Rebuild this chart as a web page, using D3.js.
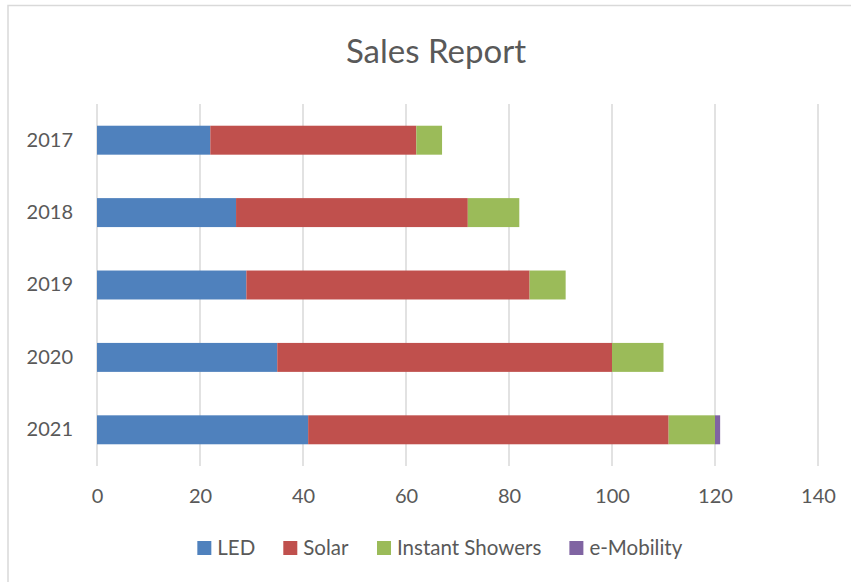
<!DOCTYPE html>
<html>
<head>
<meta charset="utf-8">
<script src="https://cdn.jsdelivr.net/npm/d3@7"></script>
<style>
  body { margin: 0; background: #fff; }
  text { font-family: Lato, "Open Sans", sans-serif; fill: #595959; }
</style>
</head>
<body>
<div class="chart"></div>
<script>
// data
const years = ["2017", "2018", "2019", "2020", "2021"];
const seriesNames = ["LED", "Solar", "Instant Showers", "e-Mobility"];
const led = [22, 27, 29, 35, 41];
const solar = [40, 45, 55, 65, 70];
const showers = [5, 10, 7, 10, 9];
const mobility = [0, 0, 0, 0, 1];
const xTicks = [0, 20, 40, 60, 80, 100, 120, 140];
const colors = ["#4F81BD", "#C0504D", "#9BBB59", "#8064A2"];

const W = 851, H = 582;
const margin = { top: 104, right: 33, bottom: 116, left: 97 };
const width = W - margin.left - margin.right,
    height = H - margin.top - margin.bottom;

const rows = years.map((y, i) => ({
    year: y, "LED": led[i], "Solar": solar[i], "Instant Showers": showers[i], "e-Mobility": mobility[i]
}));
const stacked = d3.stack().keys(seriesNames)(rows);

const root = d3.select(".chart").append("svg")
    .attr("width", W)
    .attr("height", H);

// chart frame (only left / top edge visible in the crop)
root.append("rect")
    .attr("x", 8).attr("y", 5.5)
    .attr("width", W + 20).attr("height", H + 20)
    .attr("fill", "none")
    .attr("stroke", "#d9d9d9")
    .attr("stroke-width", 1.5);

root.append("text")
    .attr("x", 436)
    .attr("y", 63)
    .attr("text-anchor", "middle")
    .style("font-size", "33px")
    .text("Sales Report");

const svg = root.append("g")
    .attr("transform", `translate(${margin.left}, ${margin.top})`);

const xScale = d3.scaleLinear().domain([0, 140]).range([0, width]);
const yScale = d3.scaleBand().domain(years).range([0, height]).paddingInner(0.6).paddingOuter(0.3);

// gridlines
svg.selectAll(".grid")
    .data(xTicks)
    .enter()
    .append("line")
    .attr("class", "grid")
    .attr("x1", d => xScale(d))
    .attr("x2", d => xScale(d))
    .attr("y1", 0)
    .attr("y2", height)
    .attr("stroke", "#d9d9d9")
    .attr("stroke-width", 1.5);

// bars
svg.selectAll(".series")
    .data(stacked)
    .enter()
    .append("g")
    .attr("class", "series")
    .attr("fill", (d, i) => colors[i])
    .selectAll("rect")
    .data(d => d)
    .enter()
    .append("rect")
    .attr("x", d => xScale(d[0]))
    .attr("y", d => yScale(d.data.year))
    .attr("width", d => xScale(d[1]) - xScale(d[0]))
    .attr("height", yScale.bandwidth());

// axes
const xAxis = d3.axisBottom(xScale).tickValues(xTicks).tickSize(0).tickPadding(23);
svg.append("g")
    .attr("class", "x-axis")
    .attr("transform", `translate(0, ${height})`)
    .call(xAxis);

const yAxis = d3.axisLeft(yScale).tickSize(0).tickPadding(24);
svg.append("g")
    .attr("class", "y-axis")
    .call(yAxis);

root.selectAll(".domain").remove();
root.selectAll(".tick text")
    .style("font-size", "20px")
    .style("font-family", "Lato, 'Open Sans', sans-serif")
    .attr("fill", "#595959");

// legend
const legend = root.append("g").attr("class", "legend");
const items = legend.selectAll("g")
    .data(seriesNames)
    .enter()
    .append("g");
items.append("rect")
    .attr("width", 14)
    .attr("height", 14)
    .attr("y", -7)
    .attr("fill", (d, i) => colors[i]);
items.append("text")
    .attr("x", 20)
    .attr("y", 0)
    .attr("dy", "0.35em")
    .style("font-size", "20.5px")
    .text(d => d);

let xpos = 0;
items.each(function () {
    d3.select(this).attr("transform", `translate(${xpos}, 0)`);
    xpos += this.getBBox().width + 28;
});
const legendWidth = xpos - 28;
legend.attr("transform", `translate(${440 - legendWidth / 2}, 548)`);
</script>
</body>
</html>
